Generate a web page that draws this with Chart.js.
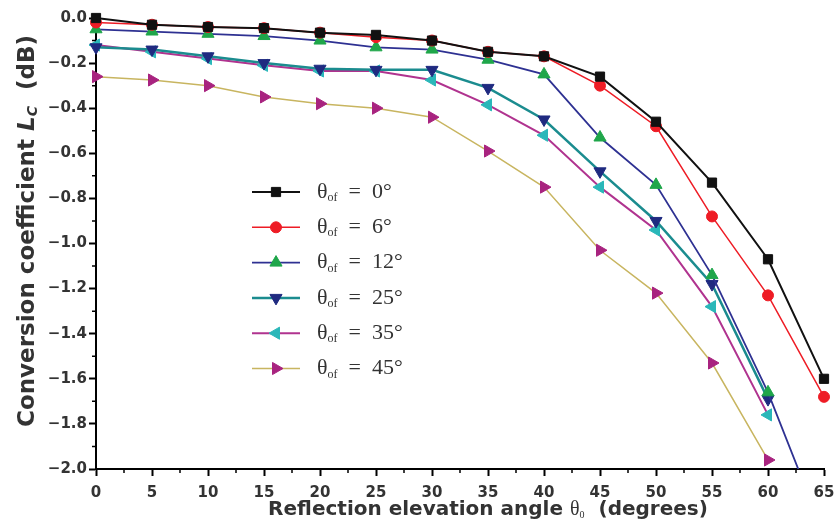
<!DOCTYPE html>
<html>
<head>
<meta charset="utf-8">
<script src="https://cdn.jsdelivr.net/npm/chart.js@4.4.1/dist/chart.umd.min.js"></script>
<style>
  html, body { margin: 0; padding: 0; background: #fff; }
  #wrap { width: 837px; height: 531px; position: relative; }
</style>
</head>
<body>
<div id="wrap"><canvas id="chart"></canvas></div>
<script>
// reflection elevation angle theta_0 (degrees)
const angles = [0, 5, 10, 15, 20, 25, 30, 35, 40, 45, 50, 55, 60, 65];
// theta_of of each curve (degrees)
const legendAngles = [0, 6, 12, 25, 35, 45];

// conversion coefficient L_C (dB)
const lc0  = [0.00, -0.03, -0.04, -0.045, -0.065, -0.075, -0.10, -0.15, -0.17, -0.26, -0.46, -0.73, -1.07, -1.60];
const lc6  = [-0.02, -0.03, -0.04, -0.045, -0.065, -0.085, -0.10, -0.15, -0.17, -0.30, -0.48, -0.88, -1.23, -1.68];
const lc12 = [-0.05, -0.06, -0.07, -0.08, -0.10, -0.13, -0.14, -0.185, -0.25, -0.53, -0.74, -1.14, -1.66, -2.29];
const lc25 = [-0.13, -0.14, -0.17, -0.20, -0.225, -0.23, -0.23, -0.31, -0.45, -0.68, -0.90, -1.18, -1.69, null];
const lc35 = [-0.12, -0.15, -0.18, -0.21, -0.235, -0.235, -0.275, -0.385, -0.52, -0.75, -0.94, -1.28, -1.76, null];
const lc45 = [-0.26, -0.275, -0.30, -0.35, -0.38, -0.40, -0.44, -0.59, -0.75, -1.03, -1.22, -1.53, -1.96, null];

const xTitle = ['Reflection elevation angle ', '\u03B8', '0', '  (degrees)'];
const yTitle = ['Conversion coefficient ', 'L', 'C', '  (dB)'];

const TEXT = '#333';

function series(values, line, marker, style, rot, r, bw) {
  return {
    data: values,
    borderColor: line,
    borderWidth: bw,
    backgroundColor: marker,
    pointBackgroundColor: marker,
    pointBorderColor: marker,
    pointBorderWidth: 1,
    pointStyle: style,
    pointRotation: rot,
    pointRadius: r,
    pointHoverRadius: r,
    tension: 0,
    spanGaps: false,
    clip: { left: 10, top: 10, right: 10, bottom: 0 }
  };
}

// draw a run of text pieces [text, font, dy] centred on (cx, cy)
function richText(ctx, parts, cx, cy, align) {
  let w = 0;
  parts.forEach(p => { ctx.font = p[1]; w += ctx.measureText(p[0]).width; });
  let x = align === 'left' ? cx : cx - w / 2;
  ctx.textAlign = 'left';
  ctx.textBaseline = 'middle';
  parts.forEach(p => {
    ctx.font = p[1];
    ctx.fillText(p[0], x, cy + (p[2] || 0));
    x += ctx.measureText(p[0]).width;
  });
}

const minorTicks = {
  id: 'minorTicks',
  afterDraw(chart) {
    const ctx = chart.ctx, xs = chart.scales.x, ys = chart.scales.y;
    ctx.save();
    ctx.strokeStyle = '#000';
    ctx.lineWidth = 1.5;
    ctx.beginPath();
    for (let v = xs.min + 2.5; v < xs.max; v += 5) {
      const px = xs.getPixelForValue(v);
      ctx.moveTo(px, xs.top); ctx.lineTo(px, xs.top + 4);
    }
    for (let v = ys.min + 0.1; v < ys.max; v += 0.2) {
      const py = ys.getPixelForValue(v);
      ctx.moveTo(ys.right, py); ctx.lineTo(ys.right - 4, py);
    }
    ctx.stroke();
    ctx.restore();
  }
};

const axisTitles = {
  id: 'axisTitles',
  afterDraw(chart) {
    const ctx = chart.ctx;
    ctx.save();
    ctx.fillStyle = TEXT;
    richText(ctx, [
      [xTitle[0], 'bold 20px "DejaVu Sans"'],
      [xTitle[1], '20px "Liberation Serif"'],
      [xTitle[2], '10px "Liberation Serif"', 5],
      [xTitle[3], 'bold 20px "DejaVu Sans"']
    ], 488, 510);
    ctx.translate(28, 231);
    ctx.rotate(-Math.PI / 2);
    richText(ctx, [
      [yTitle[0], 'bold 23px "DejaVu Sans"'],
      [yTitle[1], 'italic bold 23px "DejaVu Sans"'],
      [yTitle[2], 'italic bold 14px "DejaVu Sans"', 5],
      [yTitle[3], 'bold 23px "DejaVu Sans"']
    ], 0, 0);
    ctx.restore();
  }
};

const insideLegend = {
  id: 'insideLegend',
  afterDraw(chart) {
    const ctx = chart.ctx;
    const x0 = 252, x1 = 300, y0 = 192, row = 35.3;
    ctx.save();
    chart.data.datasets.forEach((ds, i) => {
      const y = y0 + i * row;
      ctx.strokeStyle = ds.borderColor;
      ctx.lineWidth = ds.borderWidth;
      ctx.beginPath(); ctx.moveTo(x0, y); ctx.lineTo(x1, y); ctx.stroke();
      ctx.fillStyle = ds.pointBackgroundColor;
      ctx.strokeStyle = ds.pointBorderColor;
      ctx.lineWidth = 1;
      Chart.helpers.drawPoint(ctx, {
        pointStyle: ds.pointStyle, rotation: ds.pointRotation,
        radius: ds.pointRadius, borderWidth: 1
      }, (x0 + x1) / 2, y);
      ctx.fillStyle = TEXT;
      richText(ctx, [
        ['\u03B8', '22px "Liberation Serif"'],
        ['of', '12px "Liberation Serif"', 6],
        ['\u2002=\u2002' + legendAngles[i] + '\u00B0', '22px "Liberation Serif"']
      ], 317, y, 'left');
    });
    ctx.restore();
  }
};

const axisCommon = {
  grid: { display: true, drawOnChartArea: false, drawTicks: true, tickLength: 7, tickWidth: 2, tickColor: '#000' },
  border: { display: true, width: 2, color: '#000' }
};

new Chart(document.getElementById('chart'), {
  type: 'line',
  data: {
    labels: angles,
    datasets: [
      series(lc0,  '#111111', '#111111', 'rect', 0, 6.5, 2),
      series(lc6,  '#ee1c25', '#ee1c25', 'circle', 0, 5.5, 1.5),
      series(lc12, '#2e3192', '#1fa64a', 'triangle', 0, 7, 1.8),
      series(lc25, '#1b8c8f', '#1f2a80', 'triangle', 180, 7, 2.5),
      series(lc35, '#b0338f', '#2ab7b9', 'triangle', -90, 7, 2),
      series(lc45, '#c8b560', '#a8237f', 'triangle', 90, 7, 1.5)
    ].map((d, i) => Object.assign(d, { label: '\u03B8of = ' + legendAngles[i] + '\u00B0' }))
      .map(d => Object.assign(d, { data: d.data.map((v, j) => ({ x: angles[j], y: v })) }))
  },
  options: {
    responsive: true,
    maintainAspectRatio: false,
    animation: false,
    events: [],
    layout: { padding: { top: 18, right: 13, left: 0, bottom: 0 } },
    plugins: { legend: { display: false }, tooltip: { enabled: false } },
    scales: {
      x: Object.assign({}, axisCommon, {
        type: 'linear', min: 0, max: 65,
        ticks: { stepSize: 5, color: TEXT, font: { family: 'DejaVu Sans', size: 15, weight: 'bold' }, padding: 8, maxRotation: 0 },
        afterFit(scale) { scale.height = 62; scale.paddingLeft = 0; scale.paddingRight = 0; }
      }),
      y: Object.assign({}, axisCommon, {
        type: 'linear', min: -2, max: 0,
        ticks: {
          stepSize: 0.2, color: TEXT, padding: 2,
          font: { family: 'DejaVu Sans', size: 15, weight: 'bold' },
          callback: v => v.toFixed(1).replace('-', '\u2212')
        },
        afterFit(scale) { scale.width = 96; }
      })
    }
  },
  plugins: [minorTicks, axisTitles, insideLegend]
});
</script>
</body>
</html>
